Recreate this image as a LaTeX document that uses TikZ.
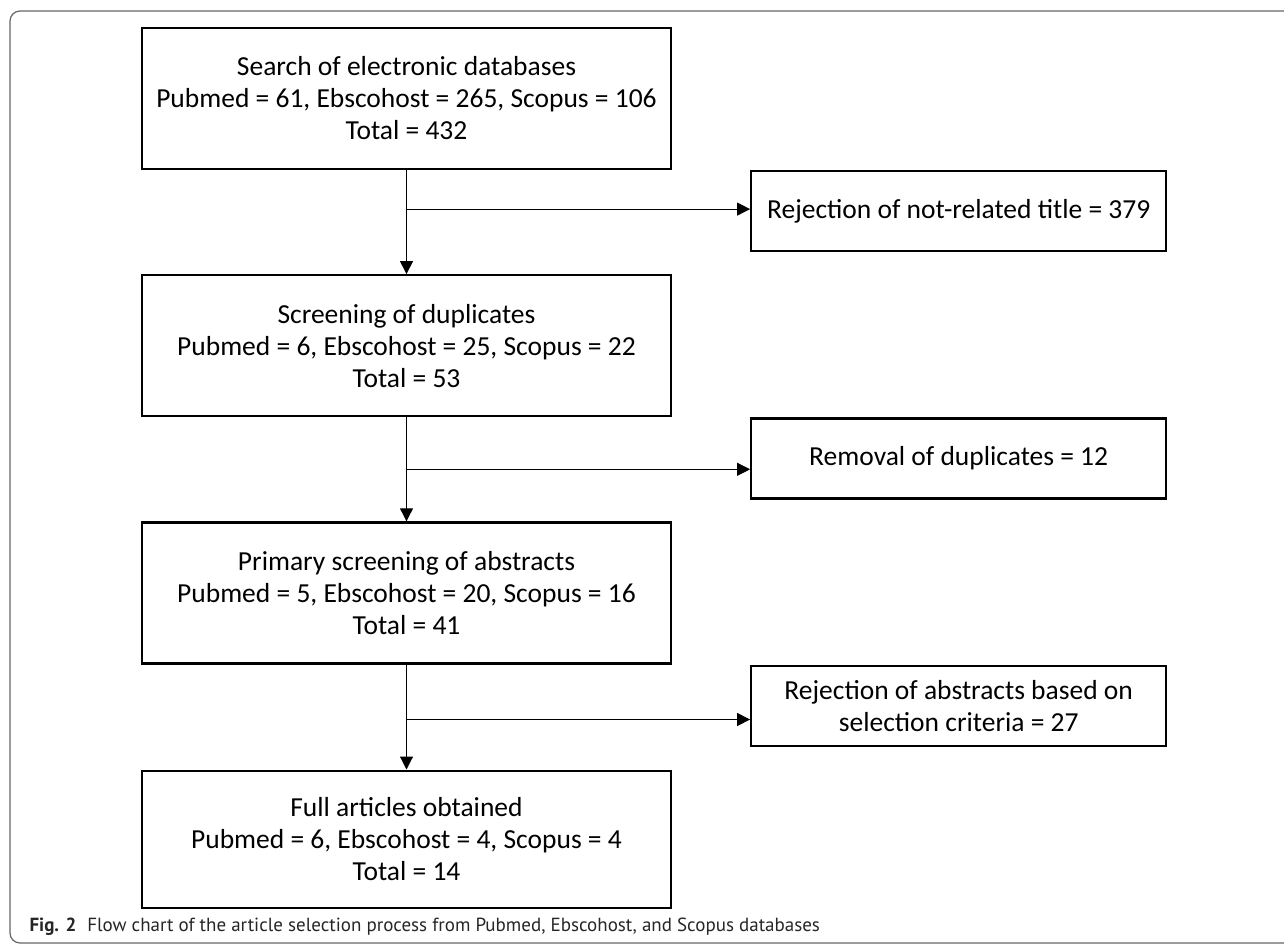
\documentclass[tikz,border=0pt]{standalone}
\usepackage{fontspec}
\setmainfont{Carlito}
\newfontfamily\capfont{PT Sans}
\usetikzlibrary{positioning,arrows.meta}

\begin{document}
\begin{tikzpicture}[x=1pt,y=-1pt,
    every node/.style={font=\fontsize{27.5}{32}\selectfont},
    mainbox/.style={draw=black, line width=2.2pt, minimum width=529pt,
        minimum height=141pt, align=center, inner sep=0pt},
    sidebox/.style={draw=black, line width=2.2pt, minimum width=415pt,
        minimum height=80pt, align=center, inner sep=0pt},
    flow/.style={line width=1.1pt, -{Triangle[length=13pt,width=13pt]}}]

\useasboundingbox (0,0) rectangle (1284,944);
% Frame
\draw[black!60, line width=1.2pt, rounded corners=10pt] (10,11) rectangle (1310,943);

% Main boxes
\node[mainbox] (search) at (406.5,98.5)
    {Search of electronic databases\\Pubmed = 61, Ebscohost = 265, Scopus = 106\\Total = 432};
\node[  mainbox,
        below=104pt of search
    ] (duplicates) {Screening of duplicates\\Pubmed = 6, Ebscohost = 25, Scopus = 22\\Total = 53};
\node[  mainbox,
        below=104pt of duplicates
    ] (abstracts) {Primary screening of abstracts\\Pubmed = 5, Ebscohost = 20, Scopus = 16\\Total = 41};
\node[  mainbox,
        minimum height=137pt,
        below=105pt of abstracts
    ] (articles) {Full articles obtained\\Pubmed = 6, Ebscohost = 4, Scopus = 4\\Total = 14};

% Side boxes
\node[  sidebox,
        below right=0pt and 78pt of search.south east
    ] (title) {Rejection of not-related title = 379};
\node[  sidebox,
        below right=0pt and 78pt of duplicates.south east
    ] (removal) {Removal of duplicates = 12};
\node[  sidebox,
        below right=0pt and 78pt of abstracts.south east
    ] (criteria) {Rejection of abstracts based on\\selection criteria = 27};

% Split points
\coordinate[below=39pt of search.south] (split1);
\coordinate[below=52pt of duplicates.south] (split2);
\coordinate[below=55pt of abstracts.south] (split3);

% Arrows
\draw[flow] (search) -- (duplicates);
\draw[flow] (duplicates) -- (abstracts);
\draw[flow] (abstracts) -- (articles);
\draw[flow] (split1) -- (split1 -| title.west);
\draw[flow] (split2) -- (split2 -| removal.west);
\draw[flow] (split3) -- (split3 -| criteria.west);

% Caption
\node[  anchor=base west,
        font=\capfont\fontsize{19}{22}\selectfont,
        text=black!85
    ] (caption) at (26,931) {\textbf{Fig. 2}\hspace{11pt}Flow chart of the article selection process from Pubmed, Ebscohost, and Scopus databases};

\end{tikzpicture}
\end{document}
